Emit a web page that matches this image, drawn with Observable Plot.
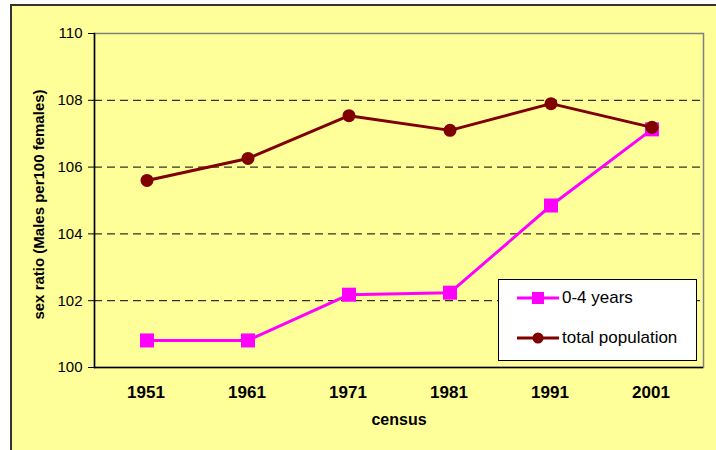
<!DOCTYPE html>
<html>
<head>
<meta charset="utf-8">
<script src="https://cdn.jsdelivr.net/npm/d3@7"></script>
<script src="https://cdn.jsdelivr.net/npm/@observablehq/plot@0.6"></script>
<style>
  html, body { margin: 0; padding: 0; background: #fff; width: 716px; height: 450px; overflow: hidden; font-family: "Liberation Sans", Arial, sans-serif; }
  #panel { position: absolute; left: 10px; top: 4px; width: 720px; height: 460px; border: 2px solid #333; background: #ffff99; box-sizing: border-box; }
  #chart { position: absolute; left: 0; top: 0; }
  #chart g[aria-label="y-axis tick label"] { font-size: 15px; }
  #chart g[aria-label="x-axis tick label"] { font-size: 17px; font-weight: bold; }
  #legend { position: absolute; left: 498px; top: 279px; width: 199px; height: 82px; box-sizing: border-box; border: 1.5px solid #000; background: #fff; }
  .item { position: absolute; left: 0; height: 20px; display: flex; align-items: center; font-size: 17px; color: #000; }
  .item svg { margin-left: 18px; margin-right: 3px; }
</style>
</head>
<body>
<div id="panel"></div>
<div id="chart"></div>
<div id="legend"></div>
<script>
const years = ["1951", "1961", "1971", "1981", "1991", "2001"];
const children = [100.81, 100.81, 102.18, 102.24, 104.85, 107.13];
const total = [105.6, 106.26, 107.54, 107.1, 107.9, 107.19];
const seriesNames = ["0-4 years", "total population"];
const seriesColors = ["#ff00ff", "#800000"];
const yTicks = [100, 102, 104, 106, 108, 110];
const gridTicks = [102, 104, 106, 108];

const dataChildren = years.map((y, i) => ({year: y, value: children[i]}));
const dataTotal = years.map((y, i) => ({year: y, value: total[i]}));

const plot = Plot.plot({
  width: 716,
  height: 450,
  marginLeft: 94,
  marginTop: 33,
  marginRight: 13,
  marginBottom: 83,
  style: {background: "transparent", fontFamily: "'Liberation Sans', Arial, sans-serif", color: "#000"},
  x: {type: "band", domain: years, padding: 0},
  y: {domain: [100, 110]},
  marks: [
    Plot.frame({stroke: "#808080", strokeWidth: 1.5}),
    Plot.gridY(gridTicks, {stroke: "#000", strokeOpacity: 1, strokeDasharray: "8,5", strokeWidth: 1}),
    Plot.axisY(yTicks, {tickSize: 6, tickPadding: 6, label: null, fontSize: 15, stroke: "#000"}),
    Plot.axisX({tickSize: 0, tickPadding: 18, label: null, fontSize: 17, fontWeight: "bold", dx: -1}),
    Plot.frame({anchor: "left", stroke: "#000", strokeWidth: 1.5}),
    Plot.ruleY([100], {stroke: "#000", strokeWidth: 1.5}),
    Plot.line(dataChildren, {x: "year", y: "value", stroke: seriesColors[0], strokeWidth: 3}),
    Plot.dot(dataChildren, {x: "year", y: "value", symbol: "square", r: 7.9, fill: seriesColors[0], stroke: "none"}),
    Plot.line(dataTotal, {x: "year", y: "value", stroke: seriesColors[1], strokeWidth: 3}),
    Plot.dot(dataTotal, {x: "year", y: "value", symbol: "circle", r: 6.5, fill: seriesColors[1], stroke: "none"}),
    Plot.text(["sex ratio (Males per100 females)"], {frameAnchor: "left", textAnchor: "middle", dx: -55, dy: 4, rotate: -90, fontSize: 15, fontWeight: "bold", fill: "#000"}),
    Plot.text(["census"], {frameAnchor: "bottom", dy: 57, fontSize: 16, fontWeight: "bold", fill: "#000", letterSpacing: "0.6px"})
  ]
});
document.getElementById("chart").appendChild(plot);

const legend = document.getElementById("legend");
const tops = [8, 48];
seriesNames.forEach((name, i) => {
  const div = document.createElement("div");
  div.className = "item";
  div.style.top = tops[i] + "px";
  const sym = i === 0
    ? `<rect x="15" y="4" width="12" height="12" fill="${seriesColors[i]}"/>`
    : `<circle cx="21" cy="10" r="5.5" fill="${seriesColors[i]}"/>`;
  div.innerHTML = `<svg width="42" height="20"><line x1="0" x2="42" y1="10" y2="10" stroke="${seriesColors[i]}" stroke-width="3"/>${sym}</svg><span>${name}</span>`;
  legend.appendChild(div);
});
</script>
</body>
</html>
